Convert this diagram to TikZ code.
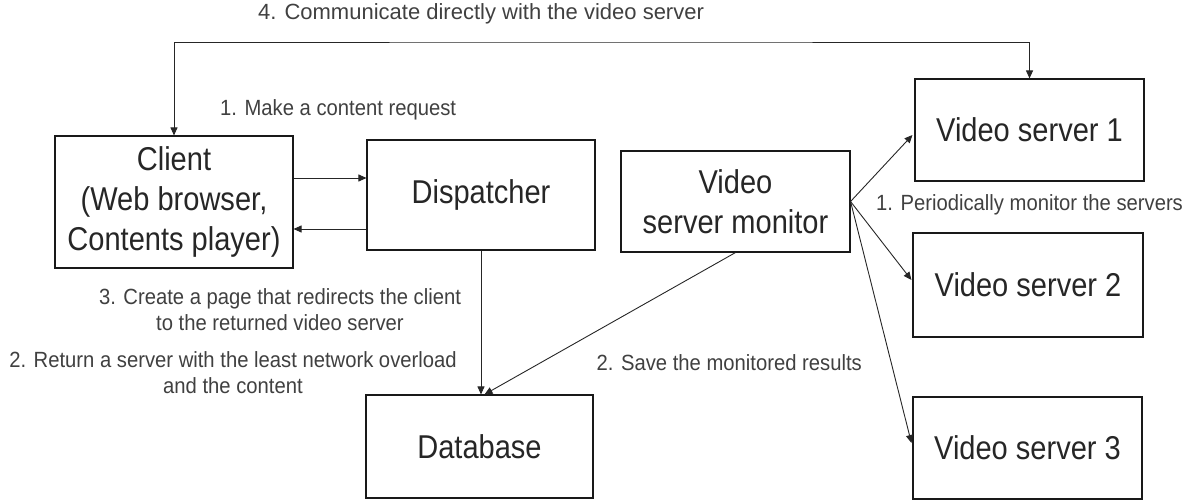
\documentclass[tikz,border=0pt]{standalone}
\usepackage{fontspec}
\setmainfont{Liberation Sans}[FakeStretch=0.92]
\newfontfamily\tallfont{Liberation Sans}[FakeStretch=0.88]
\newfontfamily\widefont{Liberation Sans}
\usetikzlibrary{arrows.meta,calc}
\newcommand\boxfont{\tallfont\fontsize{33}{40}\selectfont}
\newcommand\labfont{\fontsize{22}{26}\selectfont}
\tikzset{
  box/.style={draw=black!90, line width=1.1pt, inner sep=0pt, align=center, font=\boxfont, text=black!85},
  lbl/.style={font=\labfont, text=black!75, align=center, inner sep=0pt},
  conn/.style={draw=black!85, line width=0.9pt, -{Triangle[length=8pt,width=7pt]}},
  connboth/.style={draw=black!85, line width=0.9pt, {Triangle[length=8pt,width=7pt]}-{Triangle[length=8pt,width=7pt]}}
}
\begin{document}
\begin{tikzpicture}[x=1pt, y=-1pt]
\useasboundingbox (0,0) rectangle (1196,500);

% boxes
\node[box, minimum width=238pt, minimum height=132pt] (client) at (174,202)
  {Client\\(Web browser,\\Contents player)};
\node[box, minimum width=228pt, minimum height=110pt] (disp) at (481,195) {Dispatcher};
\node[box, minimum width=229pt, minimum height=101pt] (mon) at (735.5,201.5) {Video\\server monitor};
\node[box, minimum width=229pt, minimum height=102pt] (vs1) at (1029.5,130) {Video server 1};
\node[box, minimum width=230pt, minimum height=104pt] (vs2) at (1028,285) {Video server 2};
\node[box, minimum width=229pt, minimum height=102pt] (vs3) at (1027.5,448) {Video server 3};
\node[box, minimum width=227pt, minimum height=103pt] (db) at (479.5,446.5) {Database};

% step 4: client talks straight to the video server
\coordinate (top) at (600,42);
\draw[connboth] (client.north) |- (top) -| (vs1.north);

% client <-> dispatcher
\draw[conn] (client.east |- 0,178) -- (disp.west |- 0,178);
\draw[conn] (disp.west |- 0,229) -- (client.east |- 0,229);

% dispatcher and monitor -> database
\draw[conn] (disp.south) -- (disp.south |- db.north);
\draw[conn] (mon.south) -- ($(db.north)+(5,0)$);

% monitor -> video servers
\draw[conn] (mon.east) -- ($(vs1.west)+(-2,5)$);
\draw[conn] (mon.east) -- ($(vs2.west)+(-1,-5)$);
\draw[conn] (mon.east) -- ($(vs3.west)+(-1,-5)$);

% labels
\node[lbl, font=\widefont\labfont] (l4) at (481,14) {4. Communicate directly with the video server};
\node[lbl, anchor=west] (l1) at (220,110) {1. Make a content request};
\node[lbl] (l3) at (280,310) {3. Create a page that redirects the client\\to the returned video server};
\node[lbl] (l2) at (233,373) {2. Return a server with the least network overload\\and the content};
\node[lbl, anchor=east] (l2s) at (862,363) {2. Save the monitored results};
\node[lbl, anchor=west] (l1p) at (876,205) {1. Periodically monitor the servers};
\end{tikzpicture}
\end{document}
